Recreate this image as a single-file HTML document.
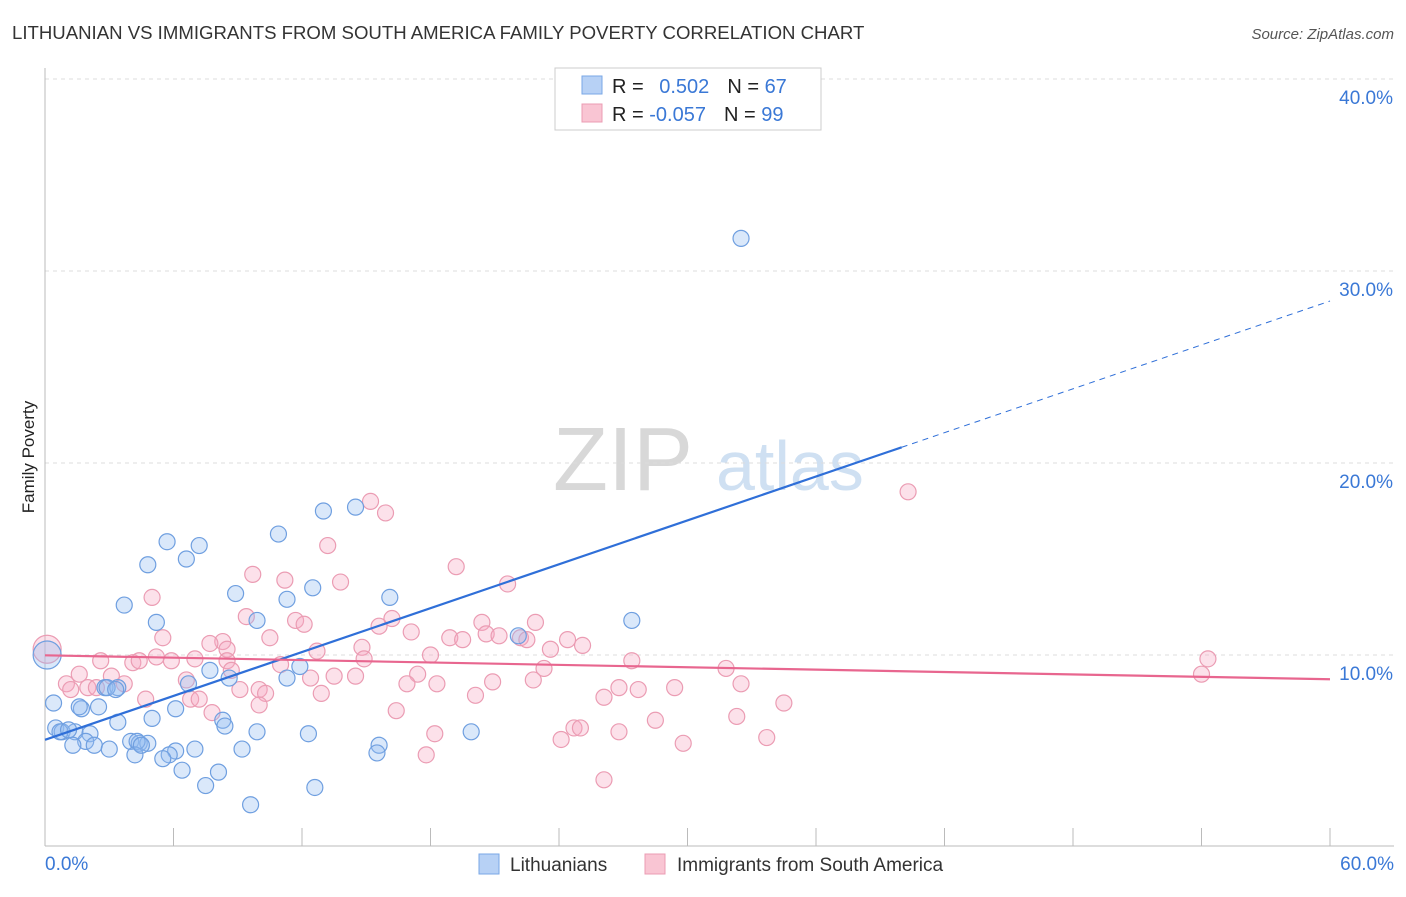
<!DOCTYPE html>
<html><head><meta charset="utf-8"><style>
body{margin:0;background:#fff;font-family:"Liberation Sans",sans-serif;}
svg text{font-family:"Liberation Sans",sans-serif;}
</style></head><body>
<svg id="chart" width="1406" height="892">
<text x="12" y="39" font-size="18.6" fill="#333">LITHUANIAN VS IMMIGRANTS FROM SOUTH AMERICA FAMILY POVERTY CORRELATION CHART</text>
<text x="1394" y="39" font-size="15" fill="#555" font-style="italic" text-anchor="end">Source: ZipAtlas.com</text>
<text x="34" y="457" font-size="17" fill="#222" transform="rotate(-90 34 457)" text-anchor="middle">Family Poverty</text>
<g><text x="553" y="490" font-size="90" fill="#d8d8d8" font-family="Liberation Serif">ZIP</text><text x="716" y="490" font-size="70" fill="#cfe0f2">atlas</text></g>
<g id="grid"></g><g id="marks"></g>
<g>
<rect x="555" y="68" width="266" height="62" fill="#fff" stroke="#ccc"/>
<rect x="582" y="76" width="20" height="18" fill="#b7d1f5" stroke="#7aa7e6"/>
<rect x="582" y="104" width="20" height="18" fill="#f9c5d3" stroke="#eb9cb3"/>
<text x="612" y="93" font-size="20" fill="#222">R = <tspan fill="#3a78d6" dx="10">0.502</tspan><tspan dx="18" fill="#222">N = </tspan><tspan fill="#3a78d6">67</tspan></text>
<text x="612" y="121" font-size="20" fill="#222">R = <tspan fill="#3a78d6">-0.057</tspan><tspan dx="18" fill="#222">N = </tspan><tspan fill="#3a78d6">99</tspan></text>
</g>
<g>
<rect x="479" y="854" width="20" height="20" fill="#b7d1f5" stroke="#7aa7e6"/>
<text x="510" y="871" font-size="19" fill="#333">Lithuanians</text>
<rect x="645" y="854" width="20" height="20" fill="#f9c5d3" stroke="#eb9cb3"/>
<text x="677" y="871" font-size="19" fill="#333">Immigrants from South America</text>
</g>
</svg>
<script>
const yTicks=[10,20,30,40];
const xTickLabels=["0.0%","60.0%"];
const blueX=[32.5,14.5,13,10.9,5.7,7.2,4.8,6.6,16.1,12.5,8.9,11.3,3.7,27.4,22.1,5.2,9.9,7.7,11.9,0.1,8.6,6.7,2.8,3.4,0.4,1.7,2.5,6.1,5,8.3,8.4,3.4,0.5,0.8,1.4,2.1,0.7,19.9,12.3,9.9,1.9,1.3,2.3,4,4.4,4.8,4.3,15.6,7,6.1,5.8,3,4.2,9.2,15.5,5.5,6.4,8.1,7.5,12.6,9.6,11.3,2.9,3.3,1.6,1.1,4.5];
const blueY=[31.7,17.7,17.5,16.3,15.9,15.7,14.7,15,13,13.5,13.2,12.9,12.6,11.8,11,11.7,11.8,9.2,9.4,10,8.8,8.5,8.3,8.3,7.5,7.2,7.3,7.2,6.7,6.6,6.3,6.5,6.2,6,6,5.9,6,6,5.9,6,5.5,5.3,5.3,5.5,5.4,5.4,5.5,5.3,5.1,5,4.8,5.1,4.8,5.1,4.9,4.6,4,3.9,3.2,3.1,2.2,8.8,8.3,8.2,7.3,6.1,5.3];
const pinkX=[15.2,15.9,40.3,13.2,19.2,9.7,13.8,11.2,21.6,5,9.4,11.7,12.1,16.2,15.6,20.4,22.9,5.5,8.3,7.7,10.5,17.1,18.9,19.5,20.6,21.2,22.2,22.5,24.4,25.1,14.8,8.5,12.7,23.6,0.1,2.6,4.1,4.4,5.2,5.9,7,8.5,11,14.9,18,27.4,31.8,54.3,54,1.6,3.1,8.7,17.4,23.3,6.6,1,1.2,2,2.4,3.7,10,9.1,12.4,13.5,14.5,16.9,18.3,20.9,22.8,26.8,27.7,29.4,32.5,4.7,6.8,7.2,10.3,12.9,20.1,26.1,7.8,10,16.4,34.5,28.5,32.3,24.7,25,18.2,26.8,24.1,29.8,33.7,17.8,26.1];
const pinkY=[18,17.4,18.5,15.7,14.6,14.2,13.8,13.9,13.7,13,12,11.8,11.6,11.9,11.5,11.7,11.7,10.9,10.7,10.6,10.9,11.2,10.9,10.8,11.1,11,10.9,10.8,10.8,10.5,10.4,10.3,10.2,10.3,10.3,9.7,9.6,9.7,9.9,9.7,9.8,9.7,9.5,9.8,10,9.7,9.3,9.8,9,9,8.9,9.2,9,9.3,8.7,8.5,8.2,8.3,8.3,8.5,8.2,8.2,8.8,8.9,8.9,8.5,8.5,8.6,8.7,8.3,8.2,8.3,8.5,7.7,7.7,7.7,8,8,7.9,7.8,7,7.4,7.1,7.5,6.6,6.8,6.2,6.2,5.9,6,5.6,5.4,5.7,4.8,3.5];
const X0=45,X1=1330,Y0=847,PPY=19.2;
const sx=v=>X0+(X1-X0)*v/60, sy=v=>Y0-v*PPY;
const NS="http://www.w3.org/2000/svg";
const grid=document.getElementById('grid'),marks=document.getElementById('marks');
function mk(p,tag,a){const e=document.createElementNS(NS,tag);for(const k in a)e.setAttribute(k,a[k]);p.appendChild(e);return e;}
yTicks.forEach(t=>{
 const l=mk(grid,'line',{x1:45,x2:1394,y1:sy(t),y2:sy(t),stroke:'#ddd','stroke-dasharray':'4,4'});
 
 
 const tx=mk(grid,'text',{x:1393,y:sy(t)+25,'font-size':19,fill:'#3a78d6','text-anchor':'end'});
 tx.textContent=t.toFixed(1)+'%';
 
 
});
mk(grid,'line',{x1:45,x2:45,y1:68,y2:846,stroke:'#bbb'});
mk(grid,'line',{x1:45,x2:1394,y1:846,y2:846,stroke:'#bbb'});
for(let i=0;i<=10;i++){mk(grid,'line',{x1:sx(i*6),x2:sx(i*6),y1:828,y2:846,stroke:'#bbb'});}
const xl0=mk(grid,'text',{x:45,y:870,'font-size':19,fill:'#3a78d6'});xl0.textContent=xTickLabels[0];


const xl1=mk(grid,'text',{x:1394,y:870,'font-size':19,fill:'#3a78d6','text-anchor':'end'});xl1.textContent=xTickLabels[1];


pinkX.forEach((v,i)=>{const c=mk(marks,'circle',{cx:sx(v),cy:sy(pinkY[i]),r:i==34?14:8,fill:'rgba(245,170,195,0.35)',stroke:'#eb9cb3','stroke-width':1.2});
 
 });
blueX.forEach((v,i)=>{const c=mk(marks,'circle',{cx:sx(v),cy:sy(blueY[i]),r:i==19?14:8,fill:'rgba(150,190,240,0.35)',stroke:'#6f9fe0','stroke-width':1.2});
 
 });
function fit(xs,ys){const n=xs.length;let mx=0,my=0;xs.forEach((x,i)=>{mx+=x;my+=ys[i]});mx/=n;my/=n;let sxy=0,sxx=0;xs.forEach((x,i)=>{sxy+=(x-mx)*(ys[i]-my);sxx+=(x-mx)**2});const b=sxy/sxx;return[my-b*mx,b];}
const [ba,bb]=fit(blueX,blueY),[pa,pb]=fit(pinkX,pinkY);
const bl=mk(marks,'line',{x1:sx(0),y1:sy(ba),x2:sx(40),y2:sy(ba+bb*40),stroke:'#2f6fd8','stroke-width':2.2});


const bd=mk(marks,'line',{x1:sx(40),y1:sy(ba+bb*40),x2:sx(60),y2:sy(ba+bb*60),stroke:'#2f6fd8','stroke-width':1,'stroke-dasharray':'6,5'});


const pl=mk(marks,'line',{x1:sx(0),y1:sy(pa),x2:sx(60),y2:sy(pa+pb*60),stroke:'#e8668f','stroke-width':2.2});


</script>
</body></html>
